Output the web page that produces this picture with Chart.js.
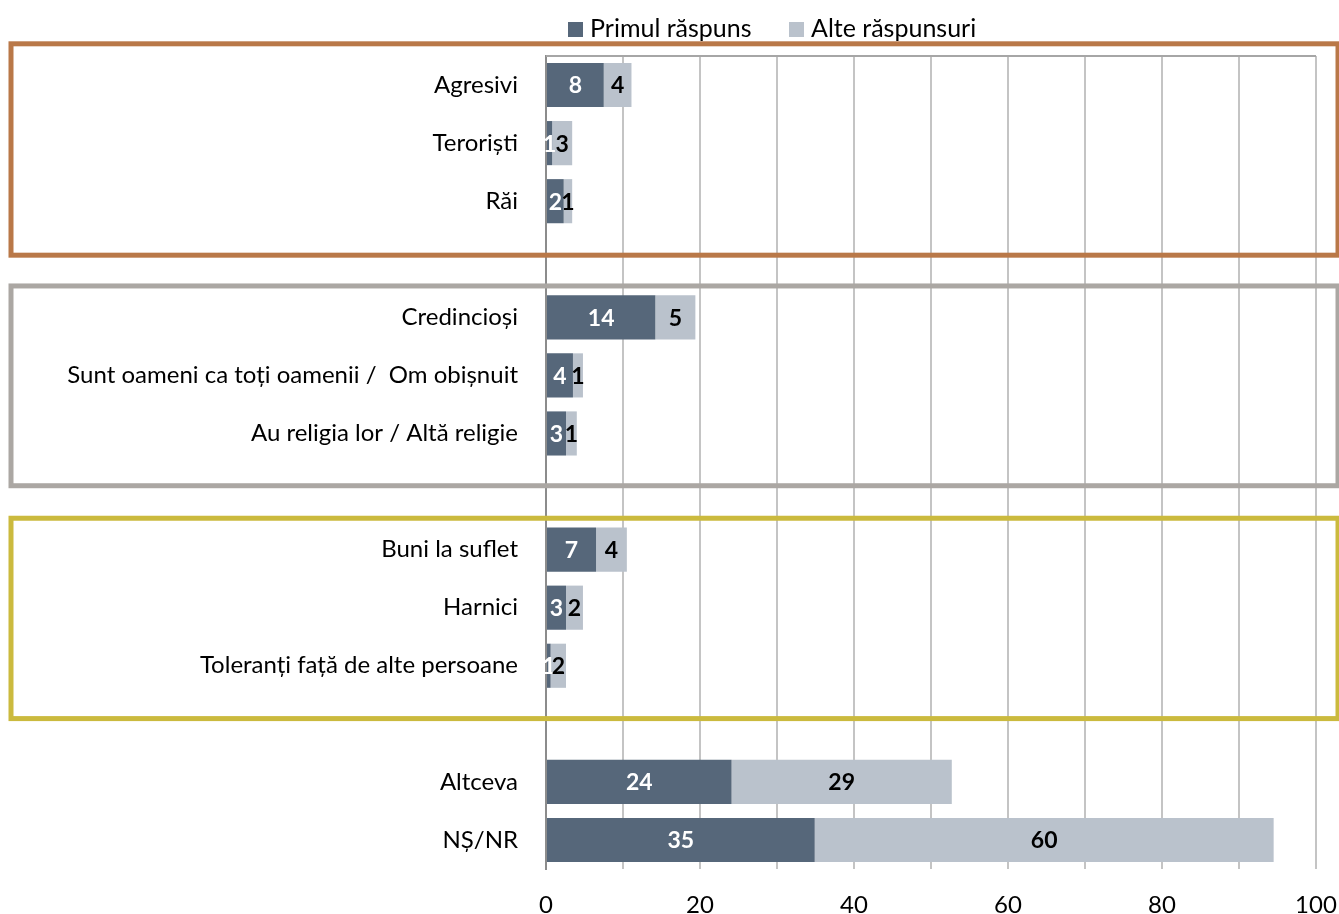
<!DOCTYPE html>
<html>
<head>
<meta charset="utf-8">
<script src="https://cdn.jsdelivr.net/npm/chart.js@4.4.1/dist/chart.umd.min.js"></script>
<style>
  html, body { margin: 0; padding: 0; background: #fff; }
  #wrap { width: 1339px; height: 914px; position: relative; }
</style>
</head>
<body>
<div id="wrap"><canvas id="chart"></canvas></div>
<script>
// categories ('' = empty spacer row between groups)
const categories = [
  'Agresivi', 'Teroriști', 'Răi', '',
  'Credincioși', 'Sunt oameni ca toți oamenii / \u2028Om obișnuit', 'Au religia lor / Altă religie', '',
  'Buni la suflet', 'Harnici', 'Toleranți față de alte persoane', '',
  'Altceva', 'NȘ/NR'
];
const seriesNames = ['Primul răspuns', 'Alte răspunsuri'];
const firstAnswer = [7.5, 0.8, 2.3, null, 14.2, 3.5, 2.6, null, 6.5, 2.6, 0.6, null, 24.1, 34.9];
const otherAnswers = [3.6, 2.6, 1.1, null, 5.2, 1.3, 1.4, null, 4.0, 2.2, 2.0, null, 28.6, 59.6];
const xTicks = [0, 20, 40, 60, 80, 100];

const DARK = '#56677A';
const LIGHT = '#BAC2CC';
const FONT = 'Lato, "Open Sans", sans-serif';

// group frames: first/last category index, colour, extra reach above/below (in rows)
const frames = [
  { from: 0, to: 2, color: '#B97848', up: 0.71, down: 0.93 },
  { from: 4, to: 6, color: '#ABA7A3', up: 0.54, down: 0.90 },
  { from: 8, to: 10, color: '#CBBA3E', up: 0.54, down: 0.91 }
];

const decor = {
  id: 'decor',
  afterDatasetsDraw(chart) {
    const { ctx, chartArea } = chart;
    // top border line of plot
    ctx.save();
    ctx.strokeStyle = '#A6A6A6';
    ctx.lineWidth = 2;
    ctx.beginPath();
    ctx.moveTo(chartArea.left, chartArea.top);
    ctx.lineTo(chartArea.right, chartArea.top);
    ctx.stroke();

    // value labels
    ctx.font = 'bold 23px ' + FONT;
    ctx.textAlign = 'center';
    ctx.textBaseline = 'middle';
    chart.data.datasets.forEach((ds, di) => {
      const meta = chart.getDatasetMeta(di);
      meta.data.forEach((bar, i) => {
        const v = ds.data[i];
        if (v == null) return;
        ctx.fillStyle = di === 0 ? '#fff' : '#000';
        ctx.fillText(String(Math.round(v)), (bar.x + bar.base) / 2, bar.y + 1);
      });
    });
    ctx.restore();
  },
  afterDraw(chart) {
    const { ctx } = chart;
    const y = chart.scales.y;
    const step = y.getPixelForValue(1) - y.getPixelForValue(0);
    ctx.save();
    ctx.lineWidth = 5;
    frames.forEach(f => {
      const top = y.getPixelForValue(f.from) - f.up * step;
      const bottom = y.getPixelForValue(f.to) + f.down * step;
      ctx.strokeStyle = f.color;
      ctx.strokeRect(11, top, 1327, bottom - top);
    });

    // legend
    ctx.font = '25px ' + FONT;
    ctx.textBaseline = 'middle';
    ctx.textAlign = 'left';
    const legendX = [568, 789];
    chart.data.datasets.forEach((ds, i) => {
      ctx.fillStyle = ds.backgroundColor;
      ctx.fillRect(legendX[i], 22, 15, 15);
      ctx.fillStyle = '#000';
      ctx.fillText(ds.label, legendX[i] + 22, 29);
    });
    ctx.restore();
  }
};

new Chart(document.getElementById('chart'), {
  type: 'bar',
  data: {
    labels: categories,
    datasets: [
      { label: seriesNames[0], data: firstAnswer, backgroundColor: DARK, barPercentage: 0.76, categoryPercentage: 1 },
      { label: seriesNames[1], data: otherAnswers, backgroundColor: LIGHT, barPercentage: 0.76, categoryPercentage: 1 }
    ]
  },
  options: {
    indexAxis: 'y',
    responsive: true,
    maintainAspectRatio: false,
    animation: false,
    layout: { padding: { top: 56, right: 23, bottom: 0, left: 0 } },
    plugins: { legend: { display: false }, tooltip: { enabled: false } },
    scales: {
      x: {
        stacked: true,
        min: 0, max: 100,
        afterFit: s => { s.height = 45; s.paddingLeft = 0; s.paddingRight = 0; },
        ticks: {
          stepSize: 10,
          autoSkip: false,
          maxRotation: 0,
          padding: 22,
          color: '#000',
          font: { family: FONT, size: 24 },
          callback: v => xTicks.includes(v) ? String(v) : ''
        },
        grid: {
          color: c => (c.tick && c.tick.value === 0) ? '#8C8C8C' : '#C4C4C4',
          lineWidth: 2,
          drawTicks: false
        },
        border: { display: false }
      },
      y: {
        stacked: true,
        afterFit: s => { s.width = 546; },
        ticks: {
          padding: 28,
          color: '#000',
          font: { family: FONT, size: 24 }
        },
        grid: { display: false, drawTicks: false },
        border: { display: true, color: '#8C8C8C', width: 2 }
      }
    }
  },
  plugins: [decor]
});
</script>
</body>
</html>
